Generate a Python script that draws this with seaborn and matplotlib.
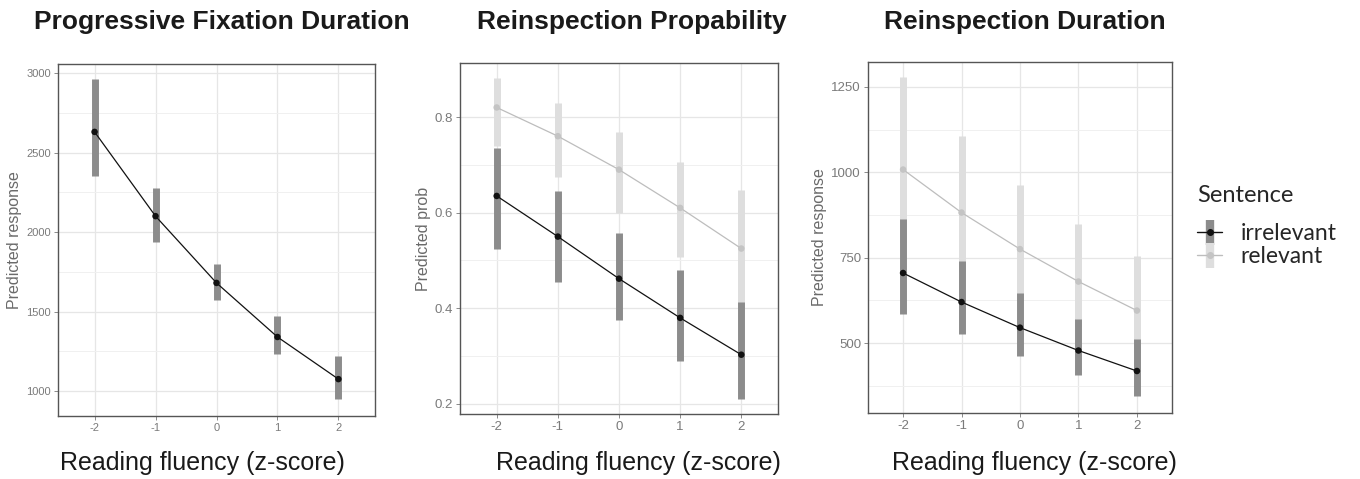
import matplotlib
matplotlib.use("Agg")
import matplotlib.pyplot as plt
from matplotlib.lines import Line2D
import seaborn as sns
import pandas as pd
import numpy as np

# reading fluency (z-score)
fluency = [-2, -1, 0, 1, 2]

# Progressive fixation duration (irrelevant only)
pfd_irr = [2630, 2100, 1680, 1340, 1075]
pfd_irr_lo = [2350, 1940, 1570, 1230, 950]
pfd_irr_hi = [2960, 2280, 1800, 1470, 1220]

# Reinspection probability
rp_irr = [0.635, 0.550, 0.462, 0.380, 0.303]
rp_irr_lo = [0.525, 0.455, 0.375, 0.290, 0.210]
rp_irr_hi = [0.735, 0.645, 0.558, 0.480, 0.413]
rp_rel = [0.820, 0.760, 0.690, 0.610, 0.525]
rp_rel_lo = [0.740, 0.675, 0.600, 0.508, 0.403]
rp_rel_hi = [0.882, 0.830, 0.768, 0.706, 0.648]

# Reinspection duration
rd_irr = [705, 620, 545, 478, 418]
rd_irr_lo = [585, 525, 462, 405, 345]
rd_irr_hi = [862, 740, 645, 570, 512]
rd_rel = [1008, 882, 775, 680, 595]
rd_rel_lo = [795, 710, 625, 550, 475]
rd_rel_hi = [1280, 1105, 962, 848, 755]

titles = ["Progressive Fixation Duration", "Reinspection Propability", "Reinspection Duration"]
ylabels = ["Predicted response", "Predicted prob", "Predicted response"]

sns.set_style("white")
plt.rcParams['font.family'] = ['Liberation Sans', 'DejaVu Sans']

styles = {
    'irrelevant': dict(bar='#8c8c8c', pt='#111111', line='#111111', lw=0.9),
    'relevant': dict(bar='#dedede', pt='#c4c4c4', line='#bdbdbd', lw=0.9),
}


def make_df(series):
    rows = []
    for name, y, lo, hi in series:
        for x, v, l, h in zip(fluency, y, lo, hi):
            rows.append({'fluency': x, 'pred': v, 'lo': l, 'hi': h, 'Sentence': name})
    return pd.DataFrame(rows)


panels = [
    make_df([('irrelevant', pfd_irr, pfd_irr_lo, pfd_irr_hi)]),
    make_df([('irrelevant', rp_irr, rp_irr_lo, rp_irr_hi),
             ('relevant', rp_rel, rp_rel_lo, rp_rel_hi)]),
    make_df([('irrelevant', rd_irr, rd_irr_lo, rd_irr_hi),
             ('relevant', rd_rel, rd_rel_lo, rd_rel_hi)]),
]

fig = plt.figure(figsize=(13.6, 4.79), dpi=100)
rects = [
    [58 / 1360, 1 - 416 / 479, 317 / 1360, 352 / 479],
    [460 / 1360, 1 - 414 / 479, 318 / 1360, 351 / 479],
    [868 / 1360, 1 - 413 / 479, 304 / 1360, 351 / 479],
]
ylims = [(843, 3057), (0.179, 0.913), (295, 1323)]
major = [np.arange(1000, 3001, 500), np.arange(0.2, 0.81, 0.2), np.arange(500, 1251, 250)]
minor = [np.arange(1250, 2751, 500), np.arange(0.3, 0.71, 0.2), np.arange(375, 1126, 250)]
ytl = [['1000', '1500', '2000', '2500', '3000'], ['0.2', '0.4', '0.6', '0.8'],
       ['500', '750', '1000', '1250']]
tick_fs = [8, 9.5, 9.5]
title_x = [222, 632, 1025]
xlab_x = [202, 638, 1034]

for i, df in enumerate(panels):
    ax = fig.add_axes(rects[i])
    ax.set_axisbelow(True)
    for name in ['relevant', 'irrelevant']:
        sub = df[df['Sentence'] == name]
        if sub.empty:
            continue
        st = styles[name]
        ax.vlines(sub['fluency'], sub['lo'], sub['hi'], color=st['bar'], lw=5, zorder=2)
        sns.lineplot(data=sub, x='fluency', y='pred', ax=ax, color=st['line'],
                     lw=st['lw'], zorder=3, legend=False)
        sns.scatterplot(data=sub, x='fluency', y='pred', ax=ax, color=st['pt'],
                        s=22, edgecolor='none', zorder=4, legend=False)
    ax.set_xlim(-2.6, 2.6)
    ax.set_ylim(*ylims[i])
    ax.set_xticks(fluency)
    ax.set_xticklabels([str(v) for v in fluency], fontsize=tick_fs[i], color='#7a7a7a')
    ax.set_yticks(major[i])
    ax.set_yticklabels(ytl[i], fontsize=tick_fs[i], color='#7a7a7a')
    ax.set_yticks(minor[i], minor=True)
    ax.grid(True, which='major', color='#e6e6e6', lw=0.9)
    ax.grid(True, which='minor', axis='y', color='#f0f0f0', lw=0.7)
    ax.tick_params(axis='both', which='major', direction='out', length=3, width=0.7,
                   color='#8a8a8a', pad=2, bottom=True, left=True)
    ax.tick_params(axis='both', which='minor', length=0)
    for sp in ax.spines.values():
        sp.set_color('#555555')
        sp.set_linewidth(1.0)
    ax.set_xlabel('')
    ax.set_ylabel(ylabels[i], fontsize=11.5, color='#6a6a6a', labelpad=3)
    fig.text(title_x[i] / 1360, 1 - 22 / 479, titles[i], ha='center', va='center',
             fontsize=19, fontweight='bold', color='#1a1a1a')
    fig.text(xlab_x[i] / 1360, 1 - 463 / 479, 'Reading fluency (z-score)', ha='center',
             va='center', fontsize=18, color='#1a1a1a')

# legend
handles = []
for name in ['irrelevant', 'relevant']:
    st = styles[name]
    bar = Line2D([], [], ls='none', marker='|', markersize=18, markeredgewidth=6,
                 color=st['bar'])
    ln = Line2D([], [], color=st['line'], lw=1.0, marker='o', markersize=4,
                markerfacecolor=st['pt'], markeredgecolor=st['pt'])
    handles.append((bar, ln))
leg = fig.legend(handles, ['irrelevant', 'relevant'], title='Sentence',
                 loc='upper left', bbox_to_anchor=(1188 / 1360, 1 - 176 / 479),
                 frameon=False, handlelength=1.1, handletextpad=0.8,
                 labelspacing=0.1, borderaxespad=0,
                 prop={'family': 'Lato', 'size': 16.5})
leg.get_title().set_fontfamily('Lato')
leg.get_title().set_fontsize(17)
leg._legend_box.align = 'left'
leg._legend_box.sep = 12

fig.savefig('out.png', dpi=100)
